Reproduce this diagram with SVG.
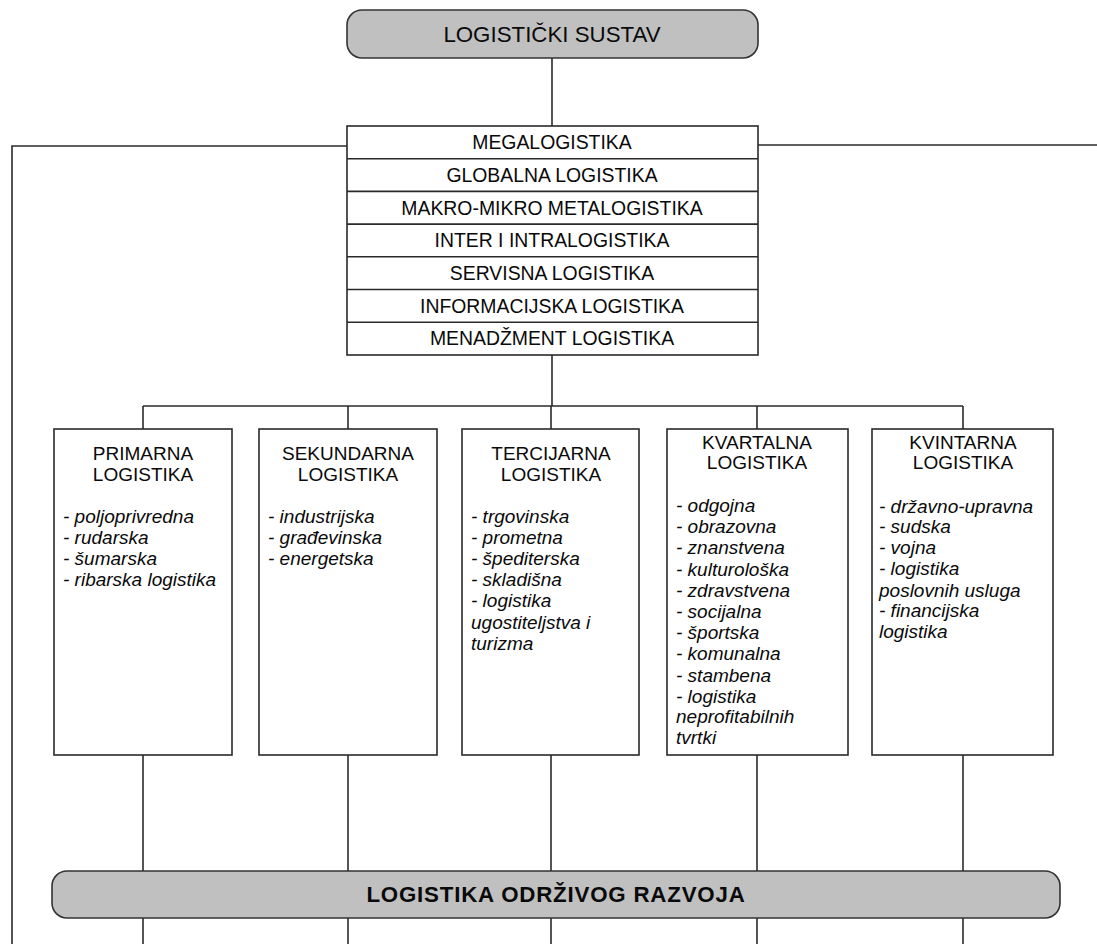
<svg xmlns="http://www.w3.org/2000/svg" width="1097" height="944" viewBox="0 0 1097 944">
<style>
.ln{stroke:#2a2a2a;stroke-width:1.6;fill:none}
.bx{fill:#fff;stroke:#2a2a2a;stroke-width:1.6}
.gr{fill:#c0c0c0;stroke:#333;stroke-width:1.6}
.t{font-family:"Liberation Sans",Arial,sans-serif;fill:#0a0a0a}
.big{font-size:22.3px;text-anchor:middle}
.row{font-size:19.4px;text-anchor:middle}
.hd{font-size:19px;text-anchor:middle}
.it{font-size:19px;font-style:italic}
</style>
<rect width="1097" height="944" fill="#fff"/>
<g id="connectors">
<line class="ln" x1="552" y1="58" x2="552" y2="126"/>
<polyline class="ln" points="347,146 12,146 12,944"/>
<line class="ln" x1="758" y1="145" x2="1097" y2="145"/>
<line class="ln" x1="552" y1="355" x2="552" y2="406"/>
<line class="ln" x1="143" y1="406" x2="963" y2="406"/>
<line class="ln" x1="143" y1="406" x2="143" y2="429"/>
<line class="ln" x1="348" y1="406" x2="348" y2="429"/>
<line class="ln" x1="551" y1="406" x2="551" y2="429"/>
<line class="ln" x1="757" y1="406" x2="757" y2="429"/>
<line class="ln" x1="963" y1="406" x2="963" y2="429"/>
<line class="ln" x1="143" y1="755" x2="143" y2="871"/>
<line class="ln" x1="348" y1="755" x2="348" y2="871"/>
<line class="ln" x1="551" y1="755" x2="551" y2="871"/>
<line class="ln" x1="757" y1="755" x2="757" y2="871"/>
<line class="ln" x1="963" y1="755" x2="963" y2="871"/>
<line class="ln" x1="143" y1="918" x2="143" y2="944"/>
<line class="ln" x1="348" y1="918" x2="348" y2="944"/>
<line class="ln" x1="551" y1="918" x2="551" y2="944"/>
<line class="ln" x1="757" y1="918" x2="757" y2="944"/>
<line class="ln" x1="963" y1="918" x2="963" y2="944"/>
</g>
<g id="logisticki-sustav">
<rect class="gr" x="347" y="10" width="411" height="48" rx="15"/>
<text class="t big" x="552" y="42">LOGISTIČKI SUSTAV</text>
</g>
<g id="stack">
<rect class="bx" x="347" y="126" width="411" height="229"/>
<line class="ln" x1="347" y1="158.7" x2="758" y2="158.7"/>
<line class="ln" x1="347" y1="191.4" x2="758" y2="191.4"/>
<line class="ln" x1="347" y1="224.1" x2="758" y2="224.1"/>
<line class="ln" x1="347" y1="256.8" x2="758" y2="256.8"/>
<line class="ln" x1="347" y1="289.5" x2="758" y2="289.5"/>
<line class="ln" x1="347" y1="322.2" x2="758" y2="322.2"/>
<text class="t row" x="552" y="149">MEGALOGISTIKA</text>
<text class="t row" x="552" y="182">GLOBALNA LOGISTIKA</text>
<text class="t row" x="552" y="214.5">MAKRO-MIKRO METALOGISTIKA</text>
<text class="t row" x="552" y="247">INTER I INTRALOGISTIKA</text>
<text class="t row" x="552" y="280">SERVISNA LOGISTIKA</text>
<text class="t row" x="552" y="312.5">INFORMACIJSKA LOGISTIKA</text>
<text class="t row" x="552" y="345">MENADŽMENT LOGISTIKA</text>
</g>
<g id="primarna">
<rect class="bx" x="54" y="429" width="178" height="326"/>
<text class="t hd" x="143" y="460">PRIMARNA</text>
<text class="t hd" x="143" y="481">LOGISTIKA</text>
<text class="t it" x="63" y="523">- poljoprivredna</text>
<text class="t it" x="63" y="544">- rudarska</text>
<text class="t it" x="63" y="565">- šumarska</text>
<text class="t it" x="63" y="586">- ribarska logistika</text>
</g>
<g id="sekundarna">
<rect class="bx" x="259" y="429" width="178" height="326"/>
<text class="t hd" x="348" y="460">SEKUNDARNA</text>
<text class="t hd" x="348" y="481">LOGISTIKA</text>
<text class="t it" x="268" y="523">- industrijska</text>
<text class="t it" x="268" y="544">- građevinska</text>
<text class="t it" x="268" y="565">- energetska</text>
</g>
<g id="tercijarna">
<rect class="bx" x="462" y="429" width="177" height="326"/>
<text class="t hd" x="551" y="460">TERCIJARNA</text>
<text class="t hd" x="551" y="481">LOGISTIKA</text>
<text class="t it" x="471" y="523">- trgovinska</text>
<text class="t it" x="471" y="544">- prometna</text>
<text class="t it" x="471" y="565">- špediterska</text>
<text class="t it" x="471" y="586">- skladišna</text>
<text class="t it" x="471" y="607">- logistika</text>
<text class="t it" x="471" y="629">ugostiteljstva i</text>
<text class="t it" x="471" y="650">turizma</text>
</g>
<g id="kvartalna">
<rect class="bx" x="667" y="429" width="181" height="326"/>
<text class="t hd" x="757" y="449">KVARTALNA</text>
<text class="t hd" x="757" y="469">LOGISTIKA</text>
<text class="t it" x="676" y="512">- odgojna</text>
<text class="t it" x="676" y="533">- obrazovna</text>
<text class="t it" x="676" y="554">- znanstvena</text>
<text class="t it" x="676" y="576">- kulturološka</text>
<text class="t it" x="676" y="597">- zdravstvena</text>
<text class="t it" x="676" y="618">- socijalna</text>
<text class="t it" x="676" y="639">- športska</text>
<text class="t it" x="676" y="660">- komunalna</text>
<text class="t it" x="676" y="682">- stambena</text>
<text class="t it" x="676" y="703">- logistika</text>
<text class="t it" x="676" y="723">neprofitabilnih</text>
<text class="t it" x="676" y="744">tvrtki</text>
</g>
<g id="kvintarna">
<rect class="bx" x="872" y="429" width="181" height="326"/>
<text class="t hd" x="963" y="449">KVINTARNA</text>
<text class="t hd" x="963" y="469">LOGISTIKA</text>
<text class="t it" x="879" y="513">- državno-upravna</text>
<text class="t it" x="879" y="533">- sudska</text>
<text class="t it" x="879" y="554">- vojna</text>
<text class="t it" x="879" y="575">- logistika</text>
<text class="t it" x="879" y="597">poslovnih usluga</text>
<text class="t it" x="879" y="617">- financijska</text>
<text class="t it" x="879" y="638">logistika</text>
</g>
<g id="odrzivi-razvoj">
<rect class="gr" x="52" y="871" width="1008" height="47" rx="15"/>
<text class="t big" x="556" y="902" font-weight="bold" font-size="23.3" letter-spacing="0.8">LOGISTIKA ODRŽIVOG RAZVOJA</text>
</g>
</svg>
